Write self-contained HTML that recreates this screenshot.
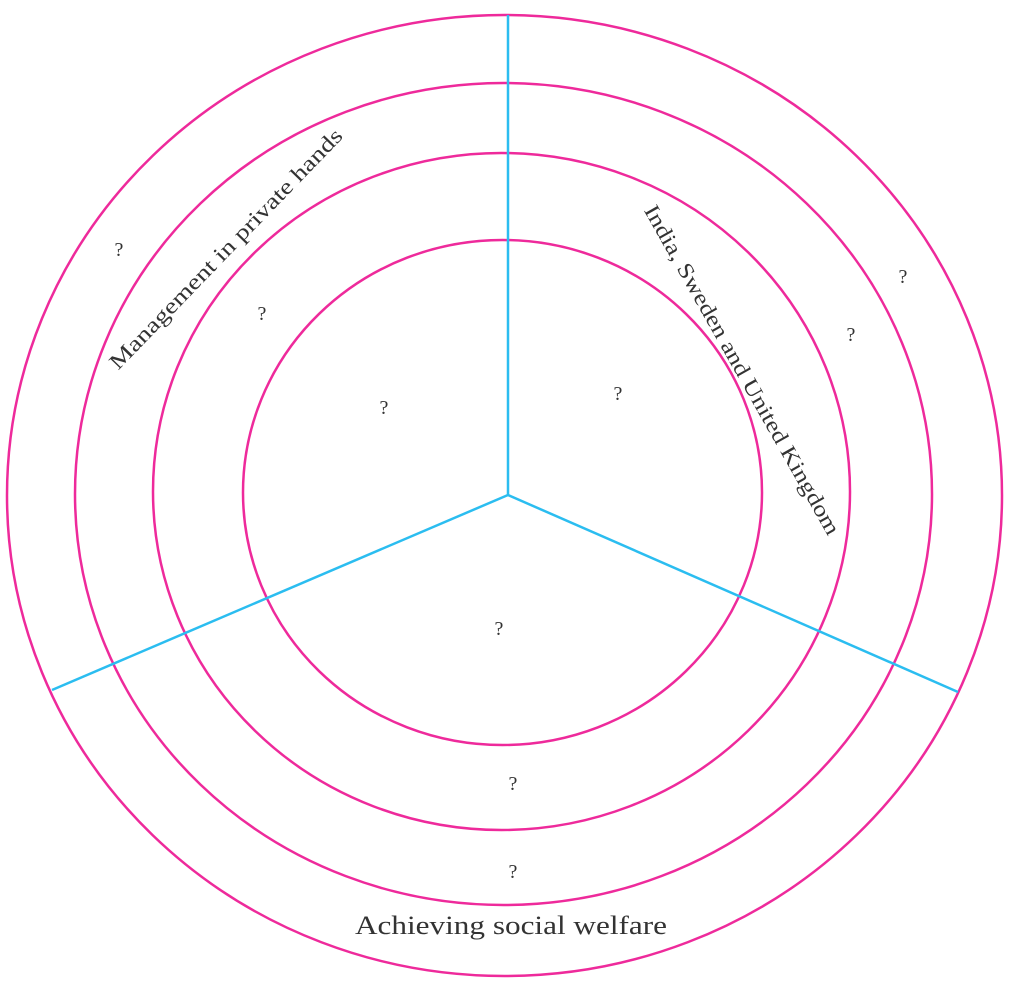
<!DOCTYPE html>
<html><head><style>
html,body{margin:0;padding:0;background:#fff;}
svg{display:block;}
text{font-family:"Liberation Serif",serif;fill:#333;}
</style></head><body>
<svg width="1024" height="992" viewBox="0 0 1024 992" xmlns="http://www.w3.org/2000/svg">
<g fill="none" stroke="#ee2a9b" stroke-width="2.5">
<ellipse cx="504.5" cy="495.5" rx="497.5" ry="480.5"/>
<ellipse cx="503.5" cy="494" rx="428.5" ry="411"/>
<ellipse cx="501.5" cy="491.5" rx="348.5" ry="338.5"/>
<ellipse cx="502.5" cy="492.5" rx="259.5" ry="252.5"/>
</g>
<g stroke="#2bbdf0" stroke-width="2.5">
<line x1="508" y1="15" x2="508" y2="495"/>
<line x1="508" y1="495" x2="52" y2="690"/>
<line x1="508" y1="495" x2="958" y2="692"/>
</g>
<g font-size="20" text-anchor="middle">
<text x="119" y="256">?</text>
<text x="262" y="320">?</text>
<text x="384" y="414">?</text>
<text x="618" y="400">?</text>
<text x="851" y="341">?</text>
<text x="903" y="283">?</text>
<text x="499" y="635">?</text>
<text x="513" y="790">?</text>
<text x="513" y="878">?</text>
</g>
<text x="226" y="256" font-size="22" text-anchor="middle" textLength="325" lengthAdjust="spacingAndGlyphs" transform="rotate(-46 226 249)">Management in private hands</text>
<text x="742" y="377" font-size="22" text-anchor="middle" textLength="375" lengthAdjust="spacingAndGlyphs" transform="rotate(60.5 742 370)">India, Sweden and United Kingdom</text>
<text x="511" y="934" font-size="26" text-anchor="middle" textLength="312" lengthAdjust="spacingAndGlyphs">Achieving social welfare</text>
</svg>
</body></html>
